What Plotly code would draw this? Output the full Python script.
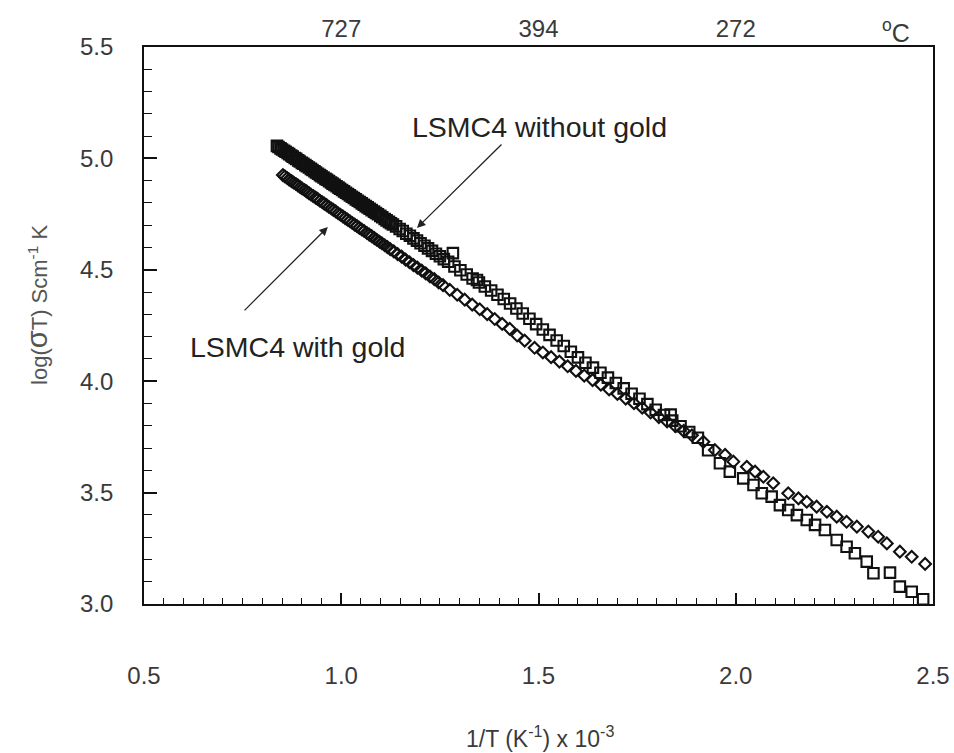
import plotly.graph_objects as go

# 1/T (K^-1 x 10^-3) and log(sigma*T) for LSMC4 without gold (open squares)
x_without = [
    0.837, 0.841, 0.846, 0.850, 0.855, 0.859, 0.864, 0.868, 0.873, 0.877,
    0.882, 0.886, 0.891, 0.895, 0.900, 0.904, 0.909, 0.913, 0.918, 0.923,
    0.927, 0.932, 0.936, 0.941, 0.946, 0.950, 0.955, 0.960, 0.964, 0.969,
    0.974, 0.978, 0.983, 0.988, 0.993, 0.997, 1.002, 1.007, 1.012, 1.017,
    1.022, 1.027, 1.032, 1.037, 1.042, 1.047, 1.052, 1.057, 1.062, 1.067,
    1.072, 1.077, 1.083, 1.088, 1.093, 1.099, 1.104, 1.110, 1.115, 1.121,
    1.126, 1.131, 1.139, 1.148, 1.156, 1.165, 1.174, 1.183, 1.192,
    1.201, 1.211, 1.220, 1.230, 1.240, 1.250, 1.260, 1.271,
    1.283, 1.287, 1.302, 1.318, 1.333, 1.344, 1.349, 1.364, 1.380, 1.396,
    1.412, 1.428, 1.444, 1.460, 1.477, 1.494, 1.511, 1.528, 1.546, 1.564,
    1.582, 1.600, 1.619, 1.638, 1.657, 1.676, 1.696, 1.716, 1.736, 1.756,
    1.776, 1.797, 1.818, 1.835, 1.839, 1.860, 1.882, 1.904, 1.930,
    1.960, 1.985, 2.019, 2.045, 2.066, 2.091, 2.112, 2.133, 2.155, 2.180,
    2.201, 2.226, 2.256, 2.281, 2.302, 2.332, 2.349, 2.391, 2.416, 2.446,
    2.475,
]
y_without = [
    5.056, 5.051, 5.045, 5.040, 5.034, 5.030, 5.024, 5.019, 5.013, 5.008,
    5.002, 4.998, 4.991, 4.986, 4.980, 4.976, 4.970, 4.965, 4.959, 4.953,
    4.948, 4.942, 4.937, 4.931, 4.925, 4.920, 4.914, 4.908, 4.904, 4.898,
    4.892, 4.887, 4.881, 4.875, 4.869, 4.864, 4.858, 4.852, 4.846, 4.840,
    4.834, 4.828, 4.822, 4.816, 4.810, 4.804, 4.798, 4.792, 4.786, 4.780,
    4.774, 4.768, 4.761, 4.755, 4.749, 4.742, 4.736, 4.728, 4.722, 4.715,
    4.709, 4.703, 4.695, 4.683, 4.674, 4.662, 4.653, 4.641, 4.631,
    4.619, 4.608, 4.596, 4.585, 4.572, 4.561, 4.548, 4.536,
    4.575, 4.515, 4.498, 4.479, 4.461, 4.454, 4.443, 4.425, 4.407, 4.388,
    4.369, 4.349, 4.326, 4.304, 4.280, 4.256, 4.232, 4.208, 4.183, 4.158,
    4.132, 4.107, 4.083, 4.061, 4.038, 4.016, 3.992, 3.968, 3.944, 3.921,
    3.897, 3.872, 3.848, 3.850, 3.823, 3.798, 3.772, 3.746, 3.690,
    3.632, 3.594, 3.564, 3.534, 3.497, 3.482, 3.444, 3.422, 3.399, 3.377,
    3.355, 3.332, 3.287, 3.257, 3.228, 3.190, 3.138, 3.141, 3.078, 3.055,
    3.021,
]

# 1/T (K^-1 x 10^-3) and log(sigma*T) for LSMC4 with gold (open diamonds)
x_with = [
    0.852, 0.857, 0.863, 0.868, 0.874, 0.879, 0.885, 0.890, 0.896, 0.901,
    0.907, 0.912, 0.918, 0.923, 0.929, 0.935, 0.940, 0.946, 0.952, 0.957,
    0.963, 0.969, 0.975, 0.980, 0.986, 0.992, 0.998, 1.004, 1.010, 1.016,
    1.022, 1.028, 1.034, 1.040, 1.046, 1.052, 1.058, 1.065, 1.071, 1.077,
    1.084, 1.090, 1.097, 1.103, 1.110, 1.117, 1.124, 1.133, 1.143, 1.153,
    1.163, 1.173, 1.183, 1.193, 1.204, 1.214, 1.225, 1.236, 1.247, 1.258,
    1.275, 1.294, 1.313, 1.332, 1.351, 1.370, 1.389, 1.408, 1.427, 1.446,
    1.465, 1.490, 1.511, 1.532, 1.553, 1.574, 1.595, 1.616, 1.637, 1.658,
    1.679, 1.700, 1.721, 1.742, 1.763, 1.784, 1.805, 1.826, 1.847, 1.868,
    1.889,
    1.918, 1.947, 1.973, 1.994, 2.028, 2.049, 2.070, 2.095, 2.133, 2.159,
    2.180, 2.205, 2.231, 2.256, 2.281, 2.307, 2.336, 2.361, 2.383, 2.416,
    2.446, 2.480,
]
y_with = [
    4.925, 4.919, 4.912, 4.905, 4.898, 4.892, 4.885, 4.879, 4.871, 4.865,
    4.858, 4.852, 4.844, 4.838, 4.831, 4.824, 4.818, 4.810, 4.803, 4.797,
    4.790, 4.782, 4.775, 4.769, 4.762, 4.754, 4.747, 4.740, 4.732, 4.725,
    4.718, 4.710, 4.703, 4.696, 4.688, 4.681, 4.674, 4.665, 4.658, 4.651,
    4.642, 4.635, 4.626, 4.619, 4.610, 4.602, 4.593, 4.583, 4.570, 4.559,
    4.546, 4.534, 4.521, 4.510, 4.496, 4.484, 4.470, 4.458, 4.443, 4.431,
    4.410, 4.388, 4.366, 4.344, 4.323, 4.301, 4.279, 4.257, 4.235, 4.205,
    4.182, 4.150, 4.129, 4.108, 4.088, 4.067, 4.046, 4.025, 4.005, 3.984,
    3.963, 3.943, 3.922, 3.901, 3.881, 3.860, 3.839, 3.819, 3.798, 3.777,
    3.757,
    3.728, 3.691, 3.669, 3.639, 3.616, 3.594, 3.571, 3.542, 3.497, 3.474,
    3.459, 3.437, 3.414, 3.392, 3.369, 3.347, 3.325, 3.302, 3.272, 3.235,
    3.212, 3.180,
]

# Celsius temperatures marked along the top edge, at their 1/T positions
top_tick_pos = [1.0, 1.5, 2.0]
top_tick_text = ["727", "394", "272"]

FONT = "Arial, Liberation Sans, Helvetica, sans-serif"
TEXT_GREY = "#3a3a3a"
INK = "#111111"

fig = go.Figure()

fig.add_trace(go.Scatter(
    x=x_without, y=y_without, mode="markers", name="LSMC4 without gold",
    marker=dict(symbol="square-open", size=10.5, color=INK,
                line=dict(width=2.1, color=INK)),
))
fig.add_trace(go.Scatter(
    x=x_with, y=y_with, mode="markers", name="LSMC4 with gold",
    marker=dict(symbol="diamond-open", size=9, color=INK,
                line=dict(width=2.1, color=INK)),
))
# transparent carrier so the top temperature scale is rendered
fig.add_trace(go.Scatter(
    x=top_tick_pos, y=[3.0] * len(top_tick_pos), xaxis="x2", yaxis="y",
    mode="markers", marker=dict(opacity=0), hoverinfo="skip",
    showlegend=False,
))

annotations = [
    # series labels with their pointer arrows
    dict(x=1.174, y=5.141, xref="x", yref="y", text="LSMC4 without gold",
         showarrow=False, xanchor="left", yanchor="middle",
         font=dict(family=FONT, size=28.5, color="#222222")),
    dict(x=1.192, y=4.688, ax=1.410, ay=5.069, xref="x", yref="y",
         axref="x", ayref="y", text="", showarrow=True, arrowhead=2,
         arrowsize=1.3, arrowwidth=1.3, arrowcolor="#222222"),
    dict(x=0.612, y=4.153, xref="x", yref="y", text="LSMC4 with gold",
         showarrow=False, xanchor="left", yanchor="middle",
         font=dict(family=FONT, size=28.5, color="#222222")),
    dict(x=0.966, y=4.692, ax=0.751, ay=4.311, xref="x", yref="y",
         axref="x", ayref="y", text="", showarrow=True, arrowhead=2,
         arrowsize=1.3, arrowwidth=1.3, arrowcolor="#222222"),
    # unit of the top temperature scale
    dict(x=2.405, y=1.0, xref="x", yref="paper", text="<sup>o</sup>C",
         showarrow=False, xanchor="center", yanchor="bottom", yshift=-2,
         font=dict(family=FONT, size=25, color=TEXT_GREY)),
    # axis titles
    dict(x=0.502, y=-0.239, xref="paper", yref="paper",
         text="1/T (K<sup>-1</sup>) x 10<sup>-3</sup>", showarrow=False,
         xanchor="center", yanchor="middle",
         font=dict(family=FONT, size=23, color=TEXT_GREY)),
    dict(x=-0.1356, y=0.537, xref="paper", yref="paper", textangle=-90,
         text="log(<span style='font-size:29px'>σ</span>T) Scm<sup>-1</sup> K",
         showarrow=False, xanchor="center", yanchor="middle",
         font=dict(family=FONT, size=22, color="#555555")),
]

fig.update_layout(
    width=954, height=753,
    margin=dict(l=144, r=21, t=47, b=149),
    paper_bgcolor="white", plot_bgcolor="white",
    showlegend=False,
    font=dict(family=FONT, size=24, color=TEXT_GREY),
    annotations=annotations,
    xaxis=dict(
        range=[0.5, 2.5], tick0=0.5, dtick=0.5, tickformat=".1f",
        ticks="inside", ticklen=11, tickwidth=1.5, tickcolor=INK,
        minor=dict(dtick=0.05, ticks="inside", ticklen=6, tickwidth=1.3,
                   tickcolor=INK),
        showline=True, linewidth=1.6, linecolor=INK, mirror=True,
        showgrid=False, zeroline=False, automargin=False,
        ticklabelstandoff=49,
        tickfont=dict(family=FONT, size=24, color=TEXT_GREY),
    ),
    xaxis2=dict(
        overlaying="x", side="top", range=[0.5, 2.5],
        tickmode="array", tickvals=top_tick_pos, ticktext=top_tick_text,
        ticks="", showline=False, showgrid=False, zeroline=False,
        automargin=False, ticklabelstandoff=4,
        tickfont=dict(family=FONT, size=24, color=TEXT_GREY),
    ),
    yaxis=dict(
        range=[3.0, 5.5], tick0=3.0, dtick=0.5, tickformat=".1f",
        ticks="inside", ticklen=13, tickwidth=1.5, tickcolor=INK,
        minor=dict(dtick=0.1, ticks="inside", ticklen=8, tickwidth=1.3,
                   tickcolor=INK),
        showline=True, linewidth=1.6, linecolor=INK, mirror=True,
        showgrid=False, zeroline=False, automargin=False,
        ticklabelstandoff=24,
        tickfont=dict(family=FONT, size=24, color=TEXT_GREY),
    ),
)

fig.write_html("out.html")
